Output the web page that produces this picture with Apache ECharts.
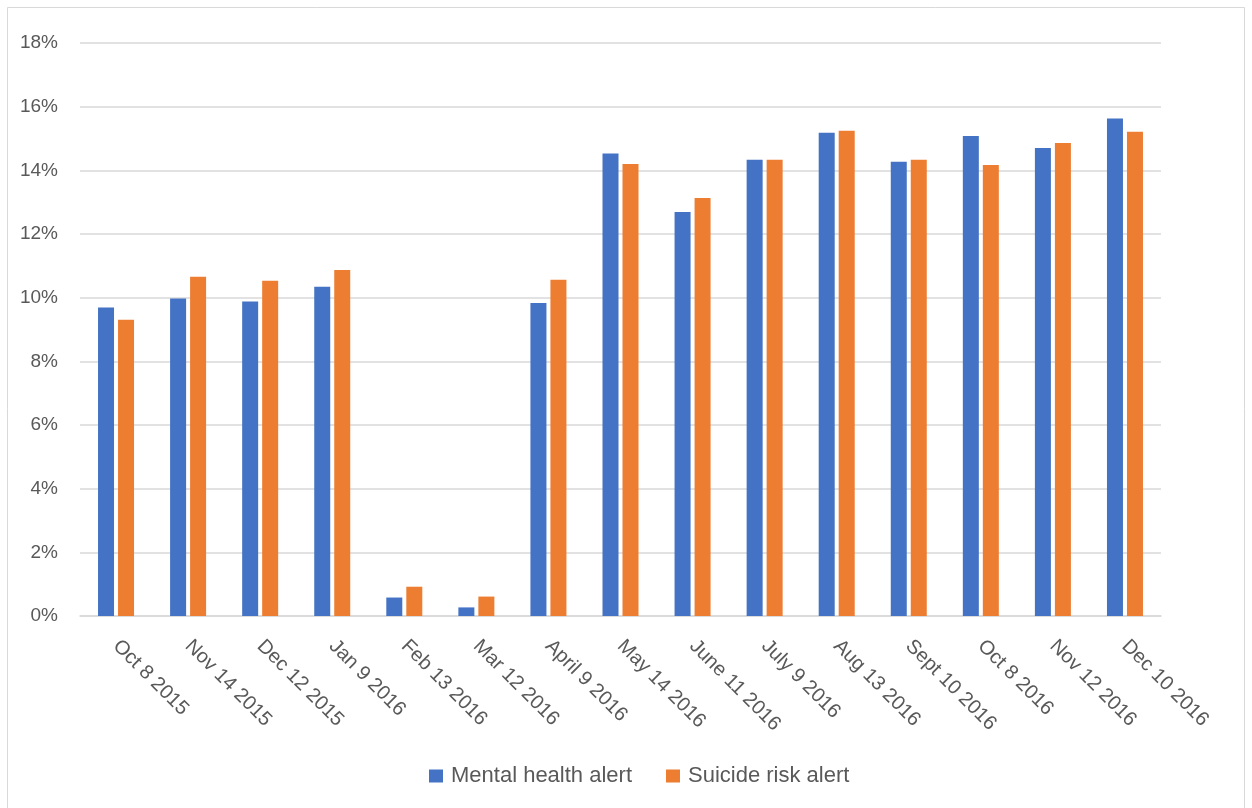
<!DOCTYPE html>
<html>
<head>
<meta charset="utf-8">
<script src="https://cdn.jsdelivr.net/npm/echarts@6/dist/echarts.min.js"></script>
<style>
html,body{margin:0;padding:0;background:#fff;}
#chart{width:1252px;height:808px;}
</style>
</head>
<body>
<div id="chart"></div>
<script>
const categories = ["Oct 8 2015","Nov 14 2015","Dec 12 2015","Jan 9 2016","Feb 13 2016","Mar 12 2016","April 9 2016","May 14 2016","June 11 2016","July 9 2016","Aug 13 2016","Sept 10 2016","Oct 8 2016","Nov 12 2016","Dec 10 2016"];
const mentalHealth = [9.69, 9.97, 9.88, 10.34, 0.58, 0.27, 9.83, 14.53, 12.69, 14.33, 15.18, 14.27, 15.08, 14.70, 15.63];
const suicideRisk = [9.31, 10.66, 10.53, 10.87, 0.92, 0.61, 10.56, 14.20, 13.13, 14.33, 15.24, 14.33, 14.17, 14.86, 15.21];
const seriesNames = ["Mental health alert", "Suicide risk alert"];

const chart = echarts.init(document.getElementById('chart'), null, {renderer: 'canvas'});
const font = "Liberation Sans";
chart.setOption({
  animation: false,
  backgroundColor: '#ffffff',
  graphic: [{
    type: 'rect',
    shape: {x: 7.5, y: 7.5, width: 1237, height: 830},
    style: {fill: 'none', stroke: '#d9d9d9', lineWidth: 1}
  }],
  grid: {left: 80, right: 91, top: 43, bottom: 192, containLabel: false},
  legend: {
    top: 760,
    left: 424,
    itemWidth: 14,
    itemHeight: 13,
    itemGap: 34,
    icon: 'rect',
    textStyle: {fontFamily: font, fontSize: 22, color: '#595959', padding: [0, 0, 0, 3]},
    data: seriesNames
  },
  xAxis: {
    type: 'category',
    data: categories,
    axisLine: {lineStyle: {color: '#d9d9d9', width: 1.5}},
    axisTick: {show: false},
    axisLabel: {rotate: -45, fontFamily: font, fontSize: 20, color: '#595959', margin: 27, interval: 0}
  },
  yAxis: {
    type: 'value',
    min: 0, max: 18, interval: 2,
    axisLabel: {formatter: '{value}%', fontFamily: font, fontSize: 19, color: '#595959', margin: 22},
    splitLine: {lineStyle: {color: '#d9d9d9', width: 1.5}},
    axisLine: {show: false},
    axisTick: {show: false}
  },
  series: [
    {name: seriesNames[0], type: 'bar', data: mentalHealth, barWidth: 16, barGap: '25%', itemStyle: {color: '#4472c4'}},
    {name: seriesNames[1], type: 'bar', data: suicideRisk, barWidth: 16, barGap: '25%', itemStyle: {color: '#ed7d31'}}
  ]
});
</script>
</body>
</html>
